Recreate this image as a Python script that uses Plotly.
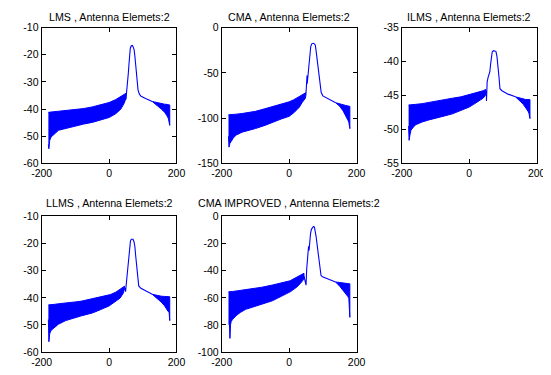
import plotly.graph_objects as go

# ---------------- data ----------------
TITLES = ["LMS , Antenna Elemets:2", "CMA , Antenna Elemets:2", "ILMS , Antenna Elemets:2",
          "LLMS , Antenna Elemets:2", "CMA IMPROVED , Antenna Elemets:2"]
X_TICKS = [-200, 0, 200]
Y_RANGES = [[-60, -10], [-150, 0], [-55, -35], [-60, -10], [-100, 0]]
Y_TICKS = [[-60, -50, -40, -30, -20, -10], [-150, -100, -50, 0], [-55, -50, -45, -40, -35],
           [-60, -50, -40, -30, -20, -10], [-100, -80, -60, -40, -20, 0]]

# LMS
lms_left_x = [-180, -178.5, -176, -172, -166, -150, -120, -100, -75, -50, -25, 0, 20, 35, 45, 50]
lms_left_up = [-41.2, -41.2, -41.2, -41.1, -41.0, -40.8, -40.5, -40.3, -39.8, -39.2, -38.5, -37.6, -36.5, -35.5, -34.8, -34.2]
lms_left_lo = [-53.0, -54.6, -51.5, -50.3, -49.6, -47.8, -46.8, -46.3, -45.5, -44.9, -44.0, -43.1, -41.7, -40.0, -37.8, -36.0]
lms_lobe_x = [50, 53.7, 57, 59, 61, 63, 66, 69, 72, 74.6, 77, 80, 83, 86, 90, 95, 110, 128]
lms_lobe_y = [-36.5, -32.5, -27, -23.6, -20, -17.6, -16.7, -16.6, -17.2, -18.3, -21, -26, -30, -33, -34.5, -35.3, -36.2, -37.2]
lms_right_x = [128, 140, 155, 165, 172, 176, 178, 180]
lms_right_up = [-37.2, -37.6, -38.0, -38.2, -38.3, -38.4, -38.4, -38.5]
lms_right_lo = [-37.2, -38.5, -40.0, -41.2, -42.5, -43.5, -44.0, -46.0]

# CMA
cma_left_x = [-180, -178.5, -176, -172, -166, -157, -140, -120, -100, -72, -50, -24, 0, 14, 30, 38, 48, 50]
cma_left_up = [-96.3, -96.3, -96.2, -96.1, -95.9, -95.6, -94.9, -93.9, -92.5, -89.6, -87.5, -85.0, -82.0, -79.6, -76.5, -75.0, -72.8, -71.8]
cma_left_lo = [-120, -132, -128, -125.8, -122, -118.7, -115.5, -113.4, -111.5, -108, -105, -101, -98, -94, -88, -83, -78, -74]
cma_lobe_x = [50, 52, 53, 53.5, 56, 60, 64, 67, 71, 75, 77.6, 80, 82, 85, 88, 92, 95, 100, 120, 138]
cma_lobe_y = [-72, -62, -53, -62, -50, -37, -21, -18, -17.4, -18, -19.5, -26, -33, -44, -55, -65, -71.8, -75.4, -79, -83]
cma_right_x = [138, 150, 160, 168, 174, 177, 179, 180]
cma_right_up = [-83, -84.5, -85.5, -86, -86.5, -87, -87, -87]
cma_right_lo = [-83, -87, -92, -97, -102, -104.5, -106, -111.6]

# ILMS
ilms_left_x = [-180, -178.5, -176, -173, -165, -158.6, -140, -120, -100, -73, -50, -25, 0, 13, 30, 41, 49]
ilms_left_up = [-46.4, -46.4, -46.4, -46.4, -46.3, -46.3, -46.2, -46.0, -45.8, -45.6, -45.4, -45.2, -44.9, -44.7, -44.5, -44.3, -44.1]
ilms_left_lo = [-49.5, -51.6, -50.8, -50.1, -49.6, -49.3, -48.9, -48.6, -48.3, -48.0, -47.7, -47.2, -46.7, -46.3, -45.8, -45.4, -44.9]
ilms_lobe_x = [49, 50.5, 51, 52, 53, 56, 58, 61, 63, 65, 68, 71.4, 75, 79, 82, 85, 88, 91, 97, 115, 137]
ilms_lobe_y = [-44.3, -44.5, -45.8, -43.5, -43.0, -42.3, -41.9, -41.5, -40.5, -39.3, -38.6, -38.4, -38.4, -38.5, -39.2, -40.4, -42.2, -44.0, -44.3, -44.8, -45.2]
ilms_right_x = [137, 150, 160, 168, 174, 177, 179, 180]
ilms_right_up = [-45.2, -45.4, -45.5, -45.6, -45.6, -45.6, -45.6, -45.6]
ilms_right_lo = [-45.2, -45.8, -46.3, -46.8, -47.3, -47.6, -47.8, -48.4]

# LLMS
llms_left_x = [-180, -178.5, -176, -172, -162, -150, -128.7, -100, -81, -50, -33.7, 0, 4, 20, 32.8, 42, 46]
llms_left_up = [-42.6, -42.6, -42.6, -42.5, -42.4, -42.2, -42.0, -41.5, -41.2, -40.3, -39.9, -38.9, -38.8, -37.9, -36.8, -35.9, -35.7]
llms_left_lo = [-48.0, -56.2, -53.2, -52.0, -50.8, -49.7, -48.4, -47.4, -46.6, -45.6, -44.8, -43.0, -42.5, -41.3, -40.1, -38.3, -36.5]
llms_lobe_x = [46, 49, 51.8, 54, 56.5, 59, 61, 63.5, 66, 71, 74, 76.5, 79, 82, 85, 88, 94.5, 110, 128]
llms_lobe_y = [-36.2, -37.7, -34, -30.5, -27, -23.5, -20.5, -19, -18.4, -18.4, -19.3, -21, -24.5, -29.4, -33, -35.6, -36.5, -37.6, -38.7]
llms_right_x = [128, 140, 155, 165, 172, 175, 178, 180]
llms_right_up = [-38.7, -39.1, -39.4, -39.5, -39.5, -39.5, -39.5, -39.6]
llms_right_lo = [-38.7, -40.0, -41.6, -43.0, -44.3, -45.0, -45.2, -48.4]

# CMA IMPROVED
cmai_left_x = [-180, -179, -177, -175.7, -174, -172, -168, -157.6, -145, -129, -100, -81.4, -50, -33.8, 0, 4.3, 23, 33, 42.6, 44]
cmai_left_up = [-55.6, -55.6, -55.6, -55.5, -55.5, -55.4, -55.3, -55.0, -54.6, -54.1, -52.9, -52.2, -50.6, -49.8, -47.6, -47.2, -44.9, -43.6, -42.3, -41.9]
cmai_left_lo = [-79.2, -79.2, -80.0, -89.9, -80.0, -77.5, -76.0, -73.2, -70.8, -68.5, -66.5, -64.9, -62.2, -60.2, -56.0, -55.4, -52.0, -49.5, -46.5, -45.9]
cmai_lobe_x = [44, 47, 50, 52, 54, 55, 56.5, 57.5, 59, 61, 63.4, 66, 69, 72, 75, 78, 80, 84, 88, 91, 94.5, 99, 120, 137.6]
cmai_lobe_y = [-44, -48.5, -50.7, -38.8, -32, -28, -25.5, -22, -25, -17, -12.6, -9.5, -7.8, -7.4, -7.9, -11, -15, -23, -31.6, -37.5, -43.5, -44.5, -46.5, -48.3]
cmai_right_x = [137.6, 150, 160, 168, 174, 177, 178.5, 180]
cmai_right_up = [-48.3, -48.8, -49.2, -49.5, -49.6, -49.6, -49.6, -49.7]
cmai_right_lo = [-48.3, -51.5, -54.5, -57.0, -59.0, -60.5, -61.0, -74.4]

PLOTS = [
    (lms_left_x, lms_left_up, lms_left_lo, lms_lobe_x, lms_lobe_y, lms_right_x, lms_right_up, lms_right_lo),
    (cma_left_x, cma_left_up, cma_left_lo, cma_lobe_x, cma_lobe_y, cma_right_x, cma_right_up, cma_right_lo),
    (ilms_left_x, ilms_left_up, ilms_left_lo, ilms_lobe_x, ilms_lobe_y, ilms_right_x, ilms_right_up, ilms_right_lo),
    (llms_left_x, llms_left_up, llms_left_lo, llms_lobe_x, llms_lobe_y, llms_right_x, llms_right_up, llms_right_lo),
    (cmai_left_x, cmai_left_up, cmai_left_lo, cmai_lobe_x, cmai_lobe_y, cmai_right_x, cmai_right_up, cmai_right_lo),
]

# ---------------- layout ----------------
# page body has an 8px margin; figure is sized to fit inside the 551x375 window
OFF = 8
W, H = 551 - OFF, 375 - OFF


def px_x(v):
    return (v - OFF) / W


def px_y(v):
    return 1 - (v - OFF) / H


X_DOMAINS = [[px_x(31.5), px_x(171.5)], [px_x(218.5), px_x(358.5)], [px_x(405.5), px_x(545.5)]]
Y_DOMAINS = [[px_y(162.5), px_y(22)], [px_y(357.5), px_y(217.3)]]
TITLE_Y = [px_y(10.8), px_y(203)]

BLUE = "#0000FF"
FONT = "Liberation Sans, Arial, sans-serif"

fig = go.Figure()
layout = dict(width=W, height=H, margin=dict(l=0, r=0, t=0, b=0),
              paper_bgcolor="white", plot_bgcolor="white", showlegend=False,
              annotations=[])

for i, (lx, lu, ll, bx, by, rx, ru, rl) in enumerate(PLOTS):
    row, col = divmod(i, 3)
    n = i + 1
    xa = "x" if n == 1 else f"x{n}"
    ya = "y" if n == 1 else f"y{n}"
    for bxs, bup, blo in ((lx, lu, ll), (rx, ru, rl)):
        fig.add_trace(go.Scatter(x=list(bxs) + list(bxs)[::-1], y=list(bup) + list(blo)[::-1],
                                 mode="lines", fill="toself", fillcolor=BLUE,
                                 line=dict(color=BLUE, width=1), xaxis=xa, yaxis=ya,
                                 hoverinfo="skip"))
    fig.add_trace(go.Scatter(x=bx, y=by, mode="lines", line=dict(color=BLUE, width=1.1),
                             xaxis=xa, yaxis=ya))
    axis_common = dict(showline=True, linecolor="black", linewidth=1, mirror="ticks",
                       ticks="inside", ticklen=4, tickcolor="black", tickwidth=1,
                       showgrid=False, zeroline=False, ticklabeloverflow="allow",
                       tickfont=dict(family=FONT, size=10.5, color="black"))
    xkey = "xaxis" if n == 1 else f"xaxis{n}"
    ykey = "yaxis" if n == 1 else f"yaxis{n}"
    layout[xkey] = dict(domain=X_DOMAINS[col], anchor=ya, range=[-200, 200],
                        tickvals=X_TICKS, ticktext=[str(v) for v in X_TICKS], **axis_common)
    layout[ykey] = dict(domain=Y_DOMAINS[row], anchor=xa, range=Y_RANGES[i],
                        tickvals=Y_TICKS[i], ticktext=[str(v) for v in Y_TICKS[i]], **axis_common)
    layout["annotations"].append(dict(
        text=TITLES[i], xref="paper", yref="paper",
        x=sum(X_DOMAINS[col]) / 2, y=TITLE_Y[row], xanchor="center", yanchor="middle",
        showarrow=False, font=dict(family=FONT, size=10.7, color="black")))

fig.update_layout(**layout)
fig.write_html("out.html")
